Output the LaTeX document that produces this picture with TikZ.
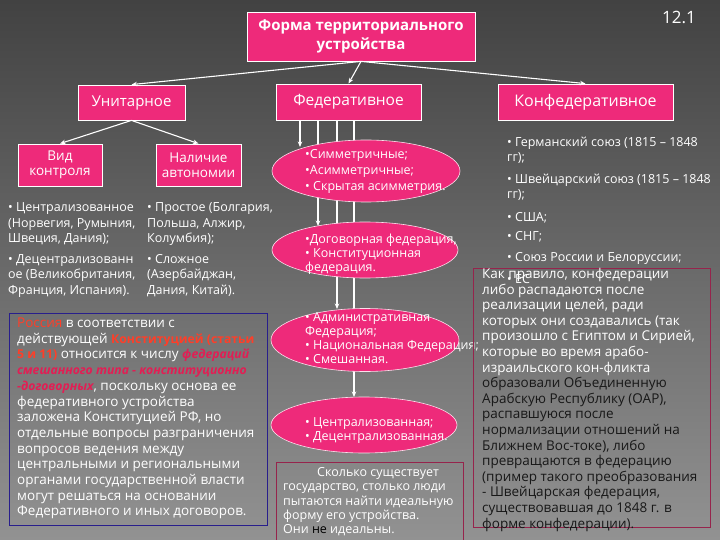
\documentclass[tikz,border=0pt]{standalone}
\usepackage{fontspec}
\setmainfont{Open Sans}
\usetikzlibrary{arrows.meta,shapes.geometric}
\definecolor{pinkc}{RGB}{238,42,122}
\definecolor{bgtop}{RGB}{66,66,66}
\definecolor{bgbot}{RGB}{146,146,146}
\definecolor{redc}{RGB}{255,62,40}
\definecolor{fedc}{RGB}{226,30,84}
\definecolor{navyc}{RGB}{40,30,140}
\definecolor{maroonc}{RGB}{150,36,76}
\definecolor{darkt}{RGB}{24,24,24}
\newcommand{\myfs}[2]{\fontsize{#1}{#2}\selectfont}
\newcommand{\redtx}[1]{{\color{redc}#1}}
\newcommand{\redbf}[1]{{\color{redc}\bfseries\fontsize{12.2}{15.7}\selectfont #1}}
\newcommand{\fedbf}[1]{{\color{fedc}\bfseries\itshape\fontsize{12.2}{15.7}\selectfont #1}}
\newcommand{\tlines}[1]{\begin{tabular}[t]{@{}l@{}}#1\end{tabular}}
\begin{document}
\begin{tikzpicture}[x=1pt,y=-1pt,
  pbox/.style={draw=white, line width=0.8pt, fill=pinkc, text=white, align=center, inner sep=0pt},
  pell/.style={ellipse, draw=white!85!pinkc, line width=0.6pt, fill=pinkc, inner sep=0pt},
  conn/.style={draw=white, line width=1.1pt, -{Stealth[length=5.5pt,width=4.5pt]}},
  txt/.style={text=white, inner sep=0pt, anchor=base west},
  frame/.style={line width=0.9pt, inner sep=0pt, anchor=north west}
]
\useasboundingbox (0,0) rectangle (720,540);
\shade[top color=bgtop, bottom color=bgbot] (0,0) rectangle (720,540);

% top level
\node[pbox, minimum width=228pt, minimum height=49pt, font=\bfseries\myfs{15}{19}] (title) at (361,36.5) {Форма территориального\\устройства};
\node[text=white, inner sep=0pt, font=\myfs{17}{20}] (num) at (679,17) {12.1};

\node[pbox, minimum width=107pt, minimum height=35pt, font=\myfs{15}{18}] (unit) at (131.5,102.5) {Унитарное};
\node[pbox, minimum width=145pt, minimum height=36pt, font=\myfs{15.5}{18}] (fed) at (348.5,102) {Федеративное};
\node[pbox, minimum width=175pt, minimum height=36pt, font=\myfs{16}{18}] (conf) at (585.5,102) {Конфедеративное};

\node[pbox, minimum width=84pt, minimum height=42pt, font=\myfs{13.5}{15}] (vid) at (60,165) {Вид\\контроля};
\node[pbox, minimum width=85pt, minimum height=42pt, font=\myfs{13.5}{15}] (nal) at (198.5,165) {Наличие\\автономии};

\draw[conn] (title.south) -- (unit.north);
\draw[conn] (title.south) -- (fed.north);
\draw[conn] (title.south) -- (conf.north);
\draw[conn] (unit.south) -- (vid.north);
\draw[conn] (unit.south) -- (nal.north);

% unitary lists
\node[txt, font=\myfs{12.5}{15.5}] (l1) at (8,211.5) {\tlines{• Централизованное\\(Норвегия, Румыния,\\Швеция, Дания);\\[5pt]• Децентрализованн\\ое (Великобритания,\\Франция, Испания).}};
\node[txt, font=\myfs{12.5}{15.5}] (l2) at (147,211.5) {\tlines{• Простое (Болгария,\\Польша, Алжир,\\Колумбия);\\[5pt]• Сложное\\(Азербайджан,\\Дания, Китай).}};

% federative branches
\coordinate (t1) at (300,147);
\coordinate (t2) at (318,226);
\coordinate (t3) at (337,309);
\coordinate (t4) at (354,397);
\draw[conn] (fed.south -| t1) -- (t1);
\draw[conn] (fed.south -| t2) -- (t2);
\draw[conn] (fed.south -| t3) -- (t3);
\draw[conn] (fed.south -| t4) -- (t4);

\node[pell, minimum width=188pt, minimum height=62pt] (e1) at (366,171) {};
\node[pell, minimum width=186pt, minimum height=56pt] (e2) at (365,250) {};
\node[pell, minimum width=188pt, minimum height=63pt] (e3) at (365,340) {};
\node[pell, minimum width=186pt, minimum height=56pt] (e4) at (364,425) {};

\node[txt, font=\myfs{12.5}{16}] (e1t) at (305,158.5) {\tlines{•Симметричные;\\•Асимметричные;\\• Скрытая асимметрия.}};
\node[txt, font=\myfs{12.5}{14}] (e2t) at (305,243.5) {\tlines{•Договорная федерация,\\• Конституционная\\федерация.}};
\node[txt, font=\myfs{12.5}{14}] (e3t) at (305,321.5) {\tlines{• Административная\\Федерация;\\• Национальная Федерация;\\• Смешанная.}};
\node[txt, font=\myfs{12.5}{14}] (e4t) at (305,426.5) {\tlines{• Централизованная;\\• Децентрализованная.}};

% quote box
\node[frame, draw=maroonc, minimum width=187pt, minimum height=90pt] (qbox) at (276,462) {};
\node[txt, font=\myfs{12.5}{14.3}] (qt) at (283,476.5) {\tlines{\hspace{34pt}Сколько существует\\государство, столько люди\\пытаются найти идеальную\\форму его устройства.\\Они {\color{black}не} идеальны.}};

% left text box
\node[frame, draw=navyc, minimum width=258pt, minimum height=212pt] (lbox) at (9,313) {};
\node[txt, font=\myfs{13.5}{15.7}] (lt) at (17,327.5) {\tlines{\redtx{Россия} в соответствии с\\действующей \redbf{Конституцией (статьи}\\\redbf{5 и 11)} относится к числу \fedbf{федераций}\\\fedbf{смешанного типа - конституционно}\\\fedbf{-договорных}, поскольку основа ее\\федеративного устройства\\заложена Конституцией РФ, но\\отдельные вопросы разграничения\\вопросов ведения между\\центральными и региональными\\органами государственной власти\\могут решаться на основании\\Федеративного и иных договоров.}};

% confederation list
\node[txt, font=\myfs{12.5}{15}] (c1) at (507,146.5) {\tlines{• Германский союз (1815 – 1848\\гг);}};
\node[txt, font=\myfs{12.5}{15}] (c2) at (507,183.5) {\tlines{• Швейцарский союз (1815 – 1848\\гг);}};
\node[txt, font=\myfs{12.5}{15}] (c3) at (507,221.5) {• США;};
\node[txt, font=\myfs{12.5}{15}] (c4) at (507,240.5) {• СНГ;};
\node[txt, font=\myfs{12.5}{15}] (c5) at (507,261.5) {• Союз России и Белоруссии;};
\node[txt, font=\myfs{12.5}{15}] (c6) at (507,283.5) {• ЕС};

% right text box
\node[frame, draw=maroonc, minimum width=237pt, minimum height=259pt] (rbox) at (473,268) {};
\node[txt, font=\myfs{13.5}{15.6}] (rt1) at (482,278.5) {\tlines{Как правило, конфедерации\\либо распадаются после\\реализации целей, ради\\которых они создавались (так\\произошло с Египтом и Сирией,\\которые во время арабо-\\израильского кон-фликта}};
\node[txt, text=darkt, font=\myfs{13.5}{15.6}] (rt2) at (482,387.7) {\tlines{образовали Объединенную\\Арабскую Республику (ОАР),\\распавшуюся после\\нормализации отношений на\\Ближнем Вос-токе), либо\\превращаются в федерацию\\(пример такого преобразования\\- Швейцарская федерация,\\существовавшая до 1848 г. в\\форме конфедерации).}};
\end{tikzpicture}
\end{document}
